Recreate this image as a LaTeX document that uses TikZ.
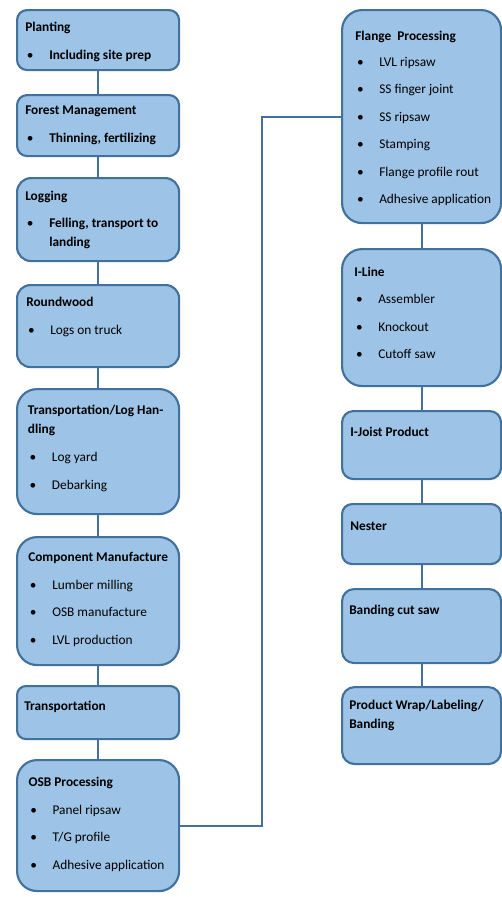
\documentclass[tikz,border=0pt]{standalone}
\usepackage{fontspec}
\setmainfont{Carlito}
\usepackage{tikz}
\usetikzlibrary{positioning}

\definecolor{boxfill}{RGB}{157,195,230}
\definecolor{boxline}{RGB}{65,113,156}
\newcommand{\pxu}{0.75pt}
\newcommand{\bul}{\makebox[18pt][l]{\hspace{1.3pt}\textbullet}}
\newcommand{\nobul}{\hspace*{18pt}}

\tikzset{
  stepbox/.style={draw=boxline, fill=boxfill, line width=1.6pt, rounded corners=#1,
    anchor=north west, inner sep=0pt},
  % text placed at the baseline of its first line
  boxtext/.style={anchor=north west, yshift=6.8pt, align=left, inner sep=0pt,
    font=\fontsize{10pt}{14.25pt}\selectfont, execute at begin node={\rule{0pt}{10pt}}},
  link/.style={draw=boxline, line width=1.6pt}
}

\begin{document}
\begin{tikzpicture}[x=\pxu, y=-\pxu]
\useasboundingbox (0,0) rectangle (501,897);

% left column
\node[stepbox=7.5pt, minimum width=162*\pxu, minimum height=60*\pxu] (plant) at (16,9) {};
\node[stepbox=7.5pt, minimum width=162*\pxu, minimum height=61*\pxu] (forest) at (16,94) {};
\node[stepbox=10.5pt, minimum width=162*\pxu, minimum height=83*\pxu] (logging) at (16,177) {};
\node[stepbox=10pt, minimum width=162*\pxu, minimum height=82*\pxu] (round) at (16,284) {};
\node[stepbox=15pt, minimum width=162*\pxu, minimum height=125*\pxu] (loghand) at (16,388) {};
\node[stepbox=15pt, minimum width=162*\pxu, minimum height=128*\pxu] (comp) at (16,536) {};
\node[stepbox=6.6pt, minimum width=162*\pxu, minimum height=53*\pxu] (transp) at (16,685) {};
\node[stepbox=15pt, minimum width=162*\pxu, minimum height=131*\pxu] (osb) at (16,759) {};

\node[boxtext] (plantT) at (25,31) {\textbf{Planting}\\[6.4pt]\bul\textbf{Including site prep}};
\node[boxtext] (forestT) at (25,115) {\textbf{Forest Management}\\[6.4pt]\bul\textbf{Thinning, fertilizing}};
\node[boxtext] (loggingT) at (25,199.5) {\textbf{Logging}\\[6.4pt]\bul\textbf{Felling, transport to}\\\nobul\textbf{landing}};
\node[boxtext] (roundT) at (26,306) {\textbf{Roundwood}\\[6.4pt]\bul Logs on truck};
\node[boxtext] (loghandT) at (27.7,414.4) {\textbf{Transportation/Log Han-}\\\textbf{dling}\\[6.4pt]\bul Log yard\\[6.4pt]\bul Debarking};
\node[boxtext] (compT) at (28,561) {\textbf{Component Manufacture}\\[6.4pt]\bul Lumber milling\\[6.4pt]\bul OSB manufacture\\[6.4pt]\bul LVL production};
\node[boxtext] (transpT) at (24,706) {\textbf{Transportation}};
\node[boxtext] (osbT) at (28.3,786) {\textbf{OSB Processing}\\[6.4pt]\bul Panel ripsaw\\[6.4pt]\bul T/G profile\\[6.4pt]\bul Adhesive application};

% right column
\node[stepbox=15pt, minimum width=159*\pxu, minimum height=213*\pxu] (flange) at (341,9) {};
\node[stepbox=15pt, minimum width=159*\pxu, minimum height=137*\pxu] (iline) at (341,248) {};
\node[stepbox=8.5pt, minimum width=159*\pxu, minimum height=68*\pxu] (ijoist) at (341,410) {};
\node[stepbox=7.5pt, minimum width=159*\pxu, minimum height=60*\pxu] (nester) at (341,503) {};
\node[stepbox=9pt, minimum width=159*\pxu, minimum height=74*\pxu] (banding) at (341,588) {};
\node[stepbox=9.5pt, minimum width=159*\pxu, minimum height=77*\pxu] (wrap) at (341,686) {};

\node[boxtext] (flangeT) at (355,40) {\textbf{Flange~ Processing}\\[5pt]\bul LVL ripsaw\\[6.4pt]\bul SS finger joint\\[6.4pt]\bul SS ripsaw\\[6.4pt]\bul Stamping\\[6.4pt]\bul Flange profile rout\\[6.4pt]\bul Adhesive application};
\node[boxtext] (ilineT) at (354,275.6) {\textbf{I-Line}\\[6.4pt]\bul Assembler\\[6.4pt]\bul Knockout\\[6.4pt]\bul Cutoff saw};
\node[boxtext] (ijoistT) at (350,432) {\textbf{I-Joist Product}};
\node[boxtext] (nesterT) at (350,526) {\textbf{Nester}};
\node[boxtext] (bandingT) at (349,610) {\textbf{Banding cut saw}};
\node[boxtext] (wrapT) at (349,708.6) {\textbf{Product Wrap/Labeling/}\\\textbf{Banding}};

% connectors
\draw[link] (plant) -- (forest);
\draw[link] (forest) -- (logging);
\draw[link] (logging) -- (round);
\draw[link] (round) -- (loghand);
\draw[link] (loghand) -- (comp);
\draw[link] (comp) -- (transp);
\draw[link] (transp) -- (osb);
\draw[link] (osb.east) -- ++(82,0) |- (flange.west);
\draw[link] (flange) -- (iline);
\draw[link] (iline) -- (ijoist);
\draw[link] (ijoist) -- (nester);
\draw[link] (nester) -- (banding);
\draw[link] (banding) -- (wrap);
\end{tikzpicture}
\end{document}
